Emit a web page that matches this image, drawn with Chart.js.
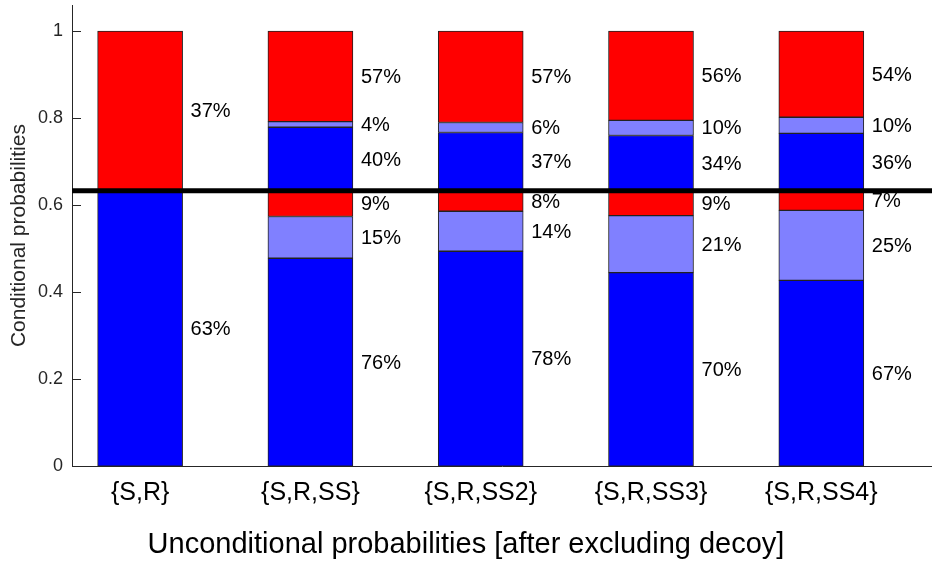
<!DOCTYPE html>
<html>
<head>
<meta charset="utf-8">
<script src="https://cdn.jsdelivr.net/npm/chart.js@4/dist/chart.umd.min.js"></script>
<style>
    body { margin: 0; background: #fff; }
    #wrap { width: 932px; height: 565px; }
</style>
</head>
<body>
<div id="wrap"><canvas id="chart" width="932" height="565"></canvas></div>
<script>
// categories (x axis)
const categories = ['{S,R}', '{S,R,SS}', '{S,R,SS2}', '{S,R,SS3}', '{S,R,SS4}'];

// segment heights, bottom to top (probabilities)
const lowerBlue  = [0.633, 0.478, 0.494, 0.445, 0.427];
const lowerLight = [null, 0.096, 0.092, 0.131, 0.161];
const lowerRed   = [null, 0.059, 0.047, 0.057, 0.045];
const upperBlue  = [null, 0.146, 0.134, 0.127, 0.132];
const upperLight = [null, 0.013, 0.023, 0.035, 0.037];
const upperRed   = [0.367, 0.208, 0.210, 0.205, 0.198];

// percentage labels next to each segment
const pctLowerBlue  = [63, 76, 78, 70, 67];
const pctLowerLight = [null, 15, 14, 21, 25];
const pctLowerRed   = [null, 9, 8, 9, 7];
const pctUpperBlue  = [null, 40, 37, 34, 36];
const pctUpperLight = [null, 4, 6, 10, 10];
const pctUpperRed   = [37, 57, 57, 56, 54];

// horizontal reference line
const refLine = 0.633;

const yTicks = [0, 0.2, 0.4, 0.6, 0.8, 1];

const BLUE = '#0000ff';
const LIGHT = '#8080ff';
const RED = '#ff0000';
const AXIS = '#262626';
const FONT = '"Liberation Sans", Arial, sans-serif';

const toPoints = (arr) => arr.map((v, i) => ({ x: i + 1, y: v }));

const makeSet = (values, pcts, color) => ({
    data: toPoints(values),
    pcts: pcts,
    backgroundColor: color,
    borderColor: '#222',
    borderWidth: 1,
    borderSkipped: false,
    barThickness: 85,
    stack: 'one'
});

// draws percentages, the thick black line and inward y ticks
const extrasPlugin = {
    id: 'extras',
    afterDatasetsDraw(chart) {
        const { ctx, chartArea, scales } = chart;
        ctx.save();
        ctx.font = '20px ' + FONT;
        ctx.fillStyle = '#000';
        ctx.textAlign = 'left';
        ctx.textBaseline = 'middle';
        chart.data.datasets.forEach((ds, di) => {
            const meta = chart.getDatasetMeta(di);
            meta.data.forEach((bar, i) => {
                const p = ds.pcts[i];
                if (p === null || p === undefined) return;
                const props = bar.getProps(['x', 'y', 'base', 'width'], true);
                const midY = (props.y + props.base) / 2;
                ctx.fillText(p + '%', props.x + props.width / 2 + 8, midY + 1);
            });
        });

        const yLine = scales.y.getPixelForValue(refLine);
        ctx.strokeStyle = '#000';
        ctx.lineWidth = 5;
        ctx.beginPath();
        ctx.moveTo(chartArea.left, yLine);
        ctx.lineTo(chartArea.right, yLine);
        ctx.stroke();

        ctx.strokeStyle = AXIS;
        ctx.lineWidth = 1;
        yTicks.forEach(t => {
            const py = Math.round(scales.y.getPixelForValue(t)) + 0.5;
            ctx.beginPath();
            ctx.moveTo(chartArea.left, py);
            ctx.lineTo(chartArea.left + 9, py);
            ctx.stroke();
        });
        ctx.restore();
    }
};

new Chart(document.getElementById('chart').getContext('2d'), {
    type: 'bar',
    data: {
        datasets: [
            makeSet(lowerBlue, pctLowerBlue, BLUE),
            makeSet(lowerLight, pctLowerLight, LIGHT),
            makeSet(lowerRed, pctLowerRed, RED),
            makeSet(upperBlue, pctUpperBlue, BLUE),
            makeSet(upperLight, pctUpperLight, LIGHT),
            makeSet(upperRed, pctUpperRed, RED)
        ]
    },
    options: {
        responsive: false,
        animation: false,
        devicePixelRatio: 1,
        layout: { padding: { top: 5, left: 0, right: 0, bottom: 0 } },
        plugins: {
            legend: { display: false },
            tooltip: { enabled: false },
            title: {
                display: true,
                position: 'bottom',
                text: 'Unconditional probabilities [after excluding decoy]',
                color: '#000',
                font: { family: FONT, size: 29, weight: 'normal' },
                padding: { top: 0, bottom: 3 }
            }
        },
        scales: {
            x: {
                type: 'linear',
                min: 0.6,
                max: 5.65,
                offset: false,
                grid: { display: false, drawTicks: false },
                border: { display: true, color: AXIS, width: 1 },
                ticks: {
                    stepSize: 1,
                    includeBounds: false,
                    autoSkip: false,
                    maxRotation: 0,
                    padding: 12,
                    color: '#000',
                    font: { family: FONT, size: 25 },
                    callback: (v) => Number.isInteger(v) ? (categories[v - 1] || '') : ''
                },
                afterFit: (scale) => {
                    scale.height = 61;
                    scale.paddingLeft = 0;
                    scale.paddingRight = 0;
                }
            },
            y: {
                stacked: true,
                min: 0,
                max: 1.06,
                grid: { display: false, drawTicks: false },
                border: { display: true, color: AXIS, width: 1 },
                ticks: {
                    stepSize: 0.2,
                    includeBounds: false,
                    padding: 9,
                    color: '#262626',
                    font: { family: FONT, size: 18 },
                    callback: (v) => String(Number(v.toFixed(1)))
                },
                title: {
                    display: true,
                    text: 'Conditional probabilities',
                    color: '#262626',
                    font: { family: FONT, size: 21 },
                    padding: { top: 7, bottom: 0 }
                },
                afterFit: (scale) => {
                    scale.width = 72;
                    scale.paddingTop = 0;
                    scale.paddingBottom = 0;
                }
            }
        }
    },
    plugins: [extrasPlugin]
});
</script>
</body>
</html>
